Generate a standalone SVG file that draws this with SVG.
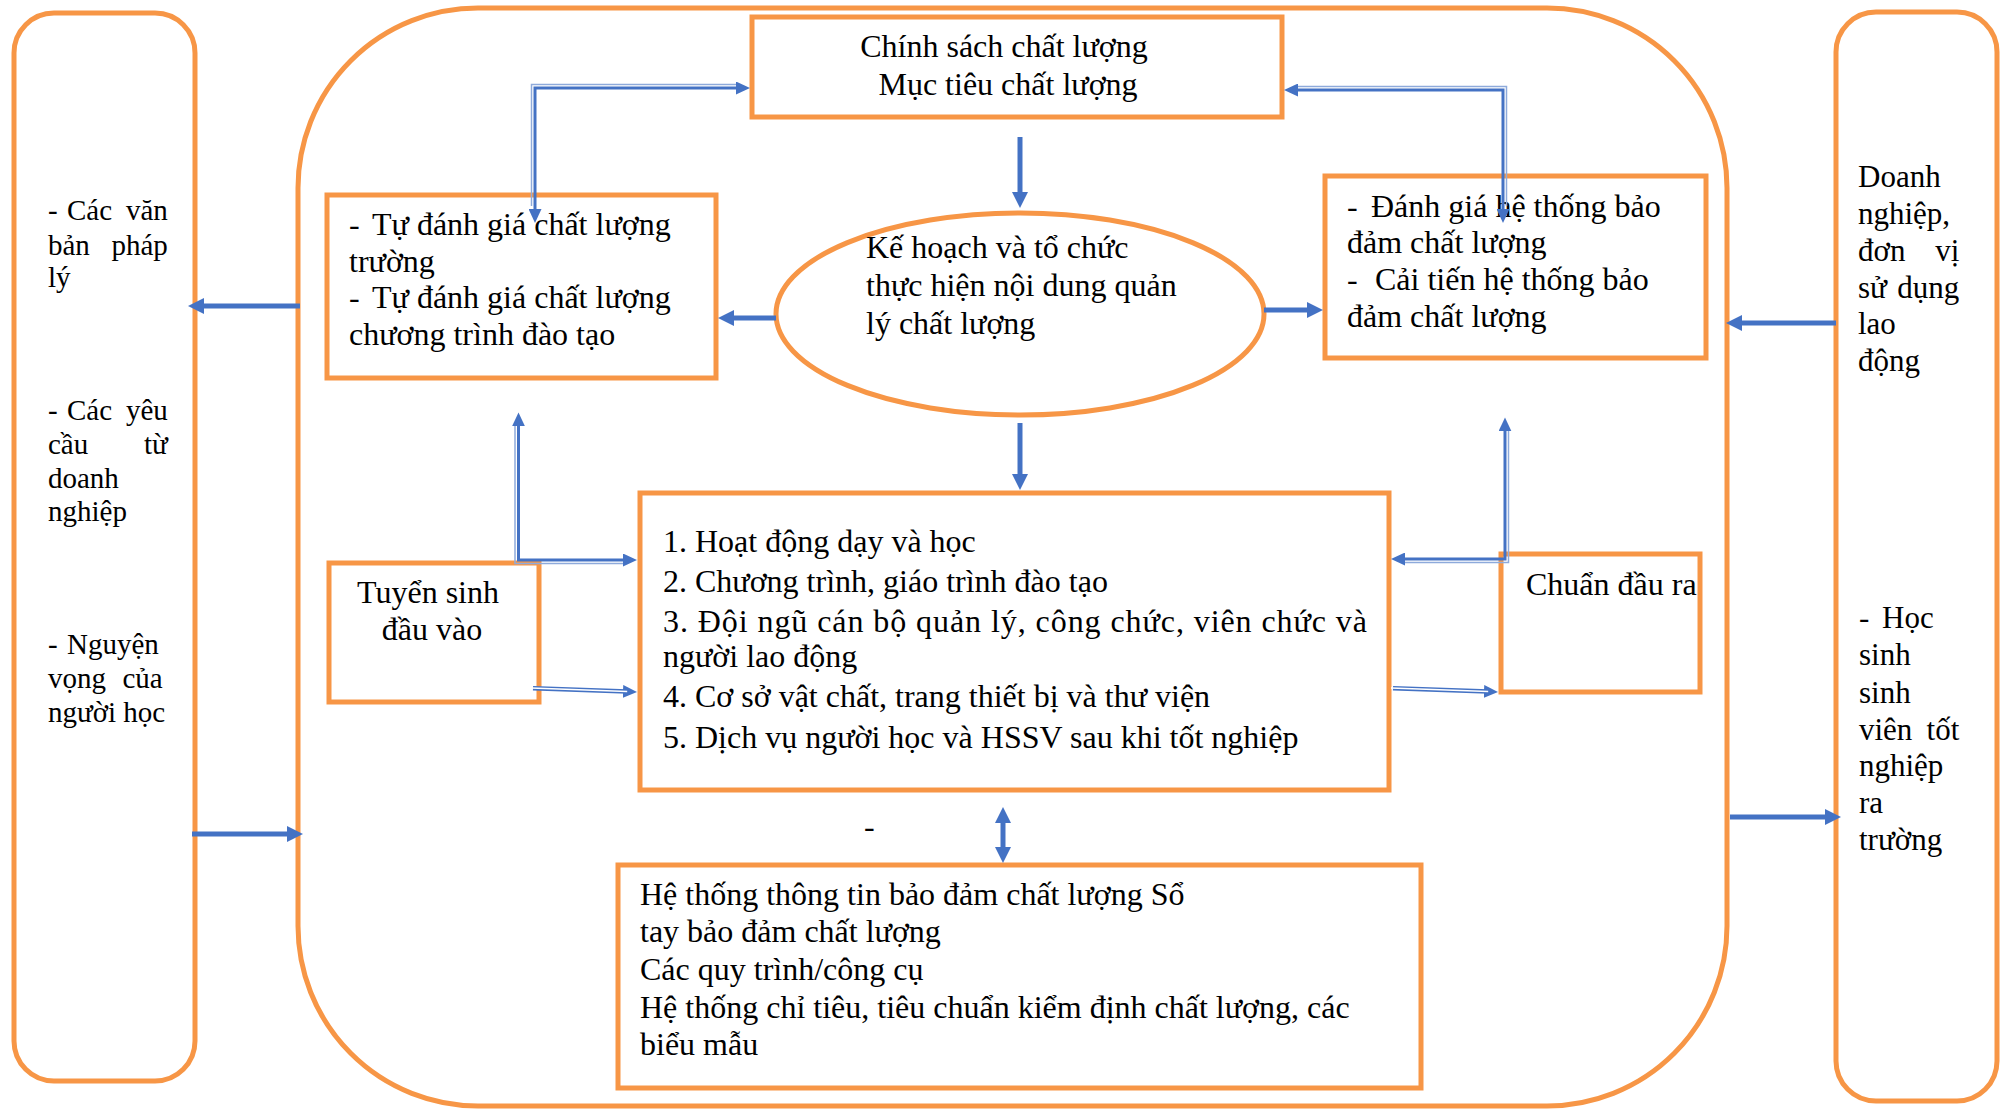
<svg xmlns="http://www.w3.org/2000/svg" width="2012" height="1110" viewBox="0 0 2012 1110">
  <style>
    .frame { fill: none; stroke: #F79646; stroke-width: 5; }
    .box { fill: #FFFFFF; stroke: #F79646; stroke-width: 5; }
    .t { font-family: "Liberation Serif", "Times New Roman", serif; font-size: 32px; fill: #000000; }
    .ts { font-family: "Liberation Serif", "Times New Roman", serif; font-size: 29px; fill: #000000; }
    .tr { font-family: "Liberation Serif", "Times New Roman", serif; font-size: 31px; fill: #000000; }
    .thick { fill: none; stroke: #4472C4; stroke-width: 5; }
    .inner { fill: none; stroke: #4472C4; stroke-width: 3; }
    .outer { fill: none; stroke: #8EAADB; stroke-width: 1.5; }
    .dbl { fill: none; stroke: #4472C4; stroke-width: 4.5; }
    .gap { fill: none; stroke: #FFFFFF; stroke-width: 1.5; }
  </style>
  <defs>
    <marker id="ah" viewBox="0 0 10 10" refX="3" refY="5" markerWidth="16" markerHeight="16" markerUnits="userSpaceOnUse" orient="auto-start-reverse" preserveAspectRatio="none">
      <path d="M0,0 L10,5 L0,10 z" fill="#4472C4"/>
    </marker>
    <marker id="ahs" viewBox="0 0 10 10" refX="3" refY="5" markerWidth="14" markerHeight="13" markerUnits="userSpaceOnUse" orient="auto-start-reverse" preserveAspectRatio="none">
      <path d="M0,0 L10,5 L0,10 z" fill="#4472C4"/>
    </marker>
  </defs>

  <rect width="2012" height="1110" fill="#FFFFFF"/>

  <!-- outer frames -->
  <g id="inputs">
    <rect class="frame" x="14" y="13" width="181" height="1068" rx="40" ry="40"/>
    <text class="ts">
      <tspan x="48" y="220">-</tspan><tspan x="67" y="220">Các</tspan><tspan x="175" y="220" text-anchor="end">văn</tspan>
      <tspan x="48" y="255">bản</tspan><tspan x="175" y="255" text-anchor="end">pháp</tspan>
      <tspan x="48" y="287">lý</tspan>
      <tspan x="48" y="420">-</tspan><tspan x="67" y="420">Các</tspan><tspan x="175" y="420" text-anchor="end">yêu</tspan>
      <tspan x="48" y="454">cầu</tspan><tspan x="175" y="454" text-anchor="end">từ</tspan>
      <tspan x="48" y="488">doanh</tspan>
      <tspan x="48" y="521">nghiệp</tspan>
      <tspan x="48" y="654">-</tspan><tspan x="67" y="654">Nguyện</tspan>
      <tspan x="48" y="688">vọng</tspan><tspan x="170" y="688" text-anchor="end">của</tspan>
      <tspan x="48" y="722">người học</tspan>
    </text>
  </g>

  <g id="system">
    <rect class="frame" x="298" y="8" width="1429" height="1098" rx="180" ry="180"/>
  </g>

  <g id="outputs">
    <rect class="frame" x="1836" y="12" width="161" height="1089" rx="40" ry="40"/>
    <text class="tr">
      <tspan x="1858" y="187">Doanh</tspan>
      <tspan x="1858" y="224">nghiệp,</tspan>
      <tspan x="1858" y="261">đơn</tspan><tspan x="1967" y="261" text-anchor="end">vị</tspan>
      <tspan x="1858" y="298">sử</tspan><tspan x="1967" y="298" text-anchor="end">dụng</tspan>
      <tspan x="1858" y="334">lao</tspan>
      <tspan x="1858" y="371">động</tspan>
      <tspan x="1859" y="628">-</tspan><tspan x="1882" y="628">Học</tspan>
      <tspan x="1859" y="665">sinh</tspan>
      <tspan x="1859" y="703">sinh</tspan>
      <tspan x="1859" y="740">viên</tspan><tspan x="1967" y="740" text-anchor="end">tốt</tspan>
      <tspan x="1859" y="776">nghiệp</tspan>
      <tspan x="1859" y="813">ra</tspan>
      <tspan x="1859" y="850">trường</tspan>
    </text>
  </g>

  <!-- inner nodes -->
  <g id="policy">
    <rect class="box" x="752" y="17" width="530" height="100"/>
    <text class="t" text-anchor="middle">
      <tspan x="1008" y="57">Chính sách chất lượng</tspan>
      <tspan x="1008" y="95">Mục tiêu chất lượng</tspan>
    </text>
  </g>

  <g id="self-assessment">
    <rect class="box" x="327" y="195" width="389" height="183"/>
    <text class="t">
      <tspan x="349" y="235">-</tspan><tspan x="372" y="235">Tự đánh giá chất lượng</tspan>
      <tspan x="349" y="272">trường</tspan>
      <tspan x="349" y="308">-</tspan><tspan x="372" y="308">Tự đánh giá chất lượng</tspan>
      <tspan x="349" y="345">chương trình đào tạo</tspan>
    </text>
  </g>

  <g id="planning">
    <ellipse class="box" cx="1020" cy="314" rx="244" ry="101"/>
    <text class="t">
      <tspan x="866" y="258">Kế hoạch và tổ chức</tspan>
      <tspan x="866" y="296">thực hiện nội dung quản</tspan>
      <tspan x="866" y="334">lý chất lượng</tspan>
    </text>
  </g>

  <g id="system-review">
    <rect class="box" x="1325" y="176" width="381" height="182"/>
    <text class="t">
      <tspan x="1347" y="217">-</tspan><tspan x="1371" y="217">Đánh giá hệ thống bảo</tspan>
      <tspan x="1347" y="253">đảm chất lượng</tspan>
      <tspan x="1347" y="290">-</tspan><tspan x="1375" y="290">Cải tiến hệ thống bảo</tspan>
      <tspan x="1347" y="327">đảm chất lượng</tspan>
    </text>
  </g>

  <g id="enrolment">
    <rect class="box" x="329" y="563" width="210" height="139"/>
    <text class="t" text-anchor="middle">
      <tspan x="432" y="603">Tuyển sinh</tspan>
      <tspan x="432" y="640">đầu vào</tspan>
    </text>
  </g>

  <g id="activities">
    <rect class="box" x="640" y="493" width="749" height="297"/>
    <text class="t">
      <tspan x="663" y="552">1. Hoạt động dạy và học</tspan>
      <tspan x="663" y="592">2. Chương trình, giáo trình đào tạo</tspan>
    </text>
    <text class="t" x="663" y="632" textLength="704" lengthAdjust="spacing">3. Đội ngũ cán bộ quản lý, công chức, viên chức và</text>
    <text class="t">
      <tspan x="663" y="667">người lao động</tspan>
      <tspan x="663" y="707">4. Cơ sở vật chất, trang thiết bị và thư viện</tspan>
      <tspan x="663" y="748">5. Dịch vụ người học và HSSV sau khi tốt nghiệp</tspan>
    </text>
  </g>

  <g id="outcomes">
    <rect class="box" x="1501" y="554" width="199" height="138"/>
    <text class="t" x="1526" y="595">Chuẩn đầu ra</text>
  </g>

  <g id="info-system">
    <rect class="box" x="618" y="865" width="803" height="223"/>
    <text class="t">
      <tspan x="640" y="905">Hệ thống thông tin bảo đảm chất lượng Sổ</tspan>
      <tspan x="640" y="942">tay bảo đảm chất lượng</tspan>
      <tspan x="640" y="980">Các quy trình/công cụ</tspan>
      <tspan x="640" y="1018">Hệ thống chỉ tiêu, tiêu chuẩn kiểm định chất lượng, các</tspan>
      <tspan x="640" y="1055">biểu mẫu</tspan>
    </text>
  </g>

  <text class="t" x="864" y="837">-</text>

  <!-- connectors -->
  <g id="connectors">
    <!-- single heavy arrows -->
    <path class="thick" d="M1020,137 V196.8" marker-end="url(#ah)"/>
    <path class="thick" d="M1020,423 V478.8" marker-end="url(#ah)"/>
    <path class="thick" d="M776,318 H729.2" marker-end="url(#ah)"/>
    <path class="thick" d="M1264,310 H1311.8" marker-end="url(#ah)"/>
    <path class="thick" d="M300,306 H199.2" marker-end="url(#ah)"/>
    <path class="thick" d="M192,834 H291.8" marker-end="url(#ah)"/>
    <path class="thick" d="M1836,323 H1737.2" marker-end="url(#ah)"/>
    <path class="thick" d="M1730,817 H1829.8" marker-end="url(#ah)"/>
    <path class="thick" d="M1003,818.2 V851.8" marker-start="url(#ah)" marker-end="url(#ah)"/>

    <!-- double-line elbow connectors -->
    <path class="outer" d="M531.5,206 V84.5 H738"/>
    <path class="inner" d="M535,213.2 V88 H740.2" marker-start="url(#ahs)" marker-end="url(#ahs)"/>

    <path class="outer" d="M1296,86.5 H1506.5 V206"/>
    <path class="inner" d="M1293.8,90 H1503 V213.2" marker-start="url(#ahs)" marker-end="url(#ahs)"/>

    <path class="outer" d="M515,426 V563.5 H625"/>
    <path class="inner" d="M518.5,422.2 V560 H627.2" marker-start="url(#ahs)" marker-end="url(#ahs)"/>

    <path class="outer" d="M1508.5,429 V562.5 H1403"/>
    <path class="inner" d="M1505,427.2 V559 H1400.8" marker-start="url(#ahs)" marker-end="url(#ahs)"/>

    <!-- thin double arrows toward the right -->
    <path class="dbl" d="M533,688.2 L627.2,691.6" marker-end="url(#ahs)"/>
    <path class="gap" d="M531,688.1 L627.2,691.6"/>
    <path class="dbl" d="M1393,688.2 L1488.2,691.6" marker-end="url(#ahs)"/>
    <path class="gap" d="M1391,688.1 L1488.2,691.6"/>
  </g>
</svg>
